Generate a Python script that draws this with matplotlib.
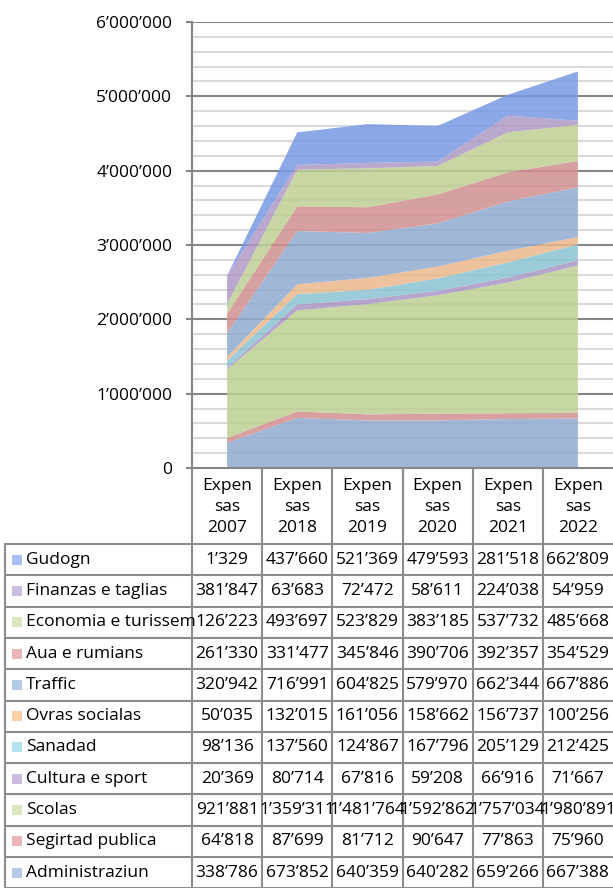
import matplotlib
matplotlib.use("Agg")
import matplotlib.pyplot as plt
from matplotlib.lines import Line2D
from matplotlib.patches import Rectangle
import numpy as np

# ---------------- data ----------------
years = ["2007", "2018", "2019", "2020", "2021", "2022"]
header_labels = ["Expen\nsas\n" + y for y in years]

# bottom-to-top stacking order
administraziun = [338786, 673852, 640359, 640282, 659266, 667388]
segirtad_publica = [64818, 87699, 81712, 90647, 77863, 75960]
scolas = [921881, 1359311, 1481764, 1592862, 1757034, 1980891]
cultura_e_sport = [20369, 80714, 67816, 59208, 66916, 71667]
sanadad = [98136, 137560, 124867, 167796, 205129, 212425]
ovras_socialas = [50035, 132015, 161056, 158662, 156737, 100256]
traffic = [320942, 716991, 604825, 579970, 662344, 667886]
aua_e_rumians = [261330, 331477, 345846, 390706, 392357, 354529]
economia_e_turissem = [126223, 493697, 523829, 383185, 537732, 485668]
finanzas_e_taglias = [381847, 63683, 72472, 58611, 224038, 54959]
gudogn = [1329, 437660, 521369, 479593, 281518, 662809]

series_names = ["Administraziun", "Segirtad publica", "Scolas", "Cultura e sport",
                "Sanadad", "Ovras socialas", "Traffic", "Aua e rumians",
                "Economia e turissem", "Finanzas e taglias", "Gudogn"]
series_values = [administraziun, segirtad_publica, scolas, cultura_e_sport,
                 sanadad, ovras_socialas, traffic, aua_e_rumians,
                 economia_e_turissem, finanzas_e_taglias, gudogn]

y_ticks = [0, 1000000, 2000000, 3000000, 4000000, 5000000, 6000000]

# ---------------- style ----------------
area_colors = ["#A1B8D8", "#D9A1A1", "#C7D7A4", "#B6A6CE", "#9CCDDA", "#EDC39C",
               "#A1B8D8", "#D8A0A0", "#C7D6A3", "#BBA8CE", "#8DA8E6"]
legend_colors = ["#B4CBE8", "#EBB5B5", "#D9E7BF", "#C9BCDF", "#B3E3EE", "#FCCFA6",
                 "#B4CBE8", "#EBB5B5", "#D9E7BF", "#C9BCDF", "#A6BFF7"]
ALPHA = 0.85


def base_color(hexc, a=ALPHA):
    r, g, b = [int(hexc[i:i + 2], 16) for i in (1, 3, 5)]
    out = []
    for c in (r, g, b):
        v = (c - (1 - a) * 255) / a
        out.append(min(max(v, 0), 255) / 255)
    return tuple(out)


def fmt(v):
    return f"{v:,}".replace(",", "\u2019")


FONT = "Open Sans"
FS = 12.5
W, H = 613, 888
DPI = 100
GRID_DARK = "#868686"
GRID_LIGHT = "#D9D9D9"
TABLE_LINE = "#8C8C8C"

fig = plt.figure(figsize=(W / DPI, H / DPI), dpi=DPI)
fig.patch.set_facecolor("white")

# plot area in pixels
x0, x1 = 192, 613
y_top, y_zero = 22, 468
ax = fig.add_axes([x0 / W, (H - y_zero) / H, (x1 - x0) / W, (y_zero - y_top) / H])
ax.set_xlim(-0.5, len(years) - 0.5)
ax.set_ylim(0, 6000000)
for s in ax.spines.values():
    s.set_visible(False)

# gridlines
for v in np.arange(200000, 6000001, 200000):
    if v % 1000000 == 0:
        ax.axhline(v, color=GRID_DARK, lw=1.5, zorder=1)
    else:
        ax.axhline(v, color=GRID_LIGHT, lw=1.5, zorder=1)

xs = np.arange(len(years))
ax.stackplot(xs, *series_values, colors=[base_color(c) for c in area_colors],
             alpha=ALPHA, zorder=2, linewidth=0)

ax.set_xticks([])
ax.set_yticks(y_ticks)
ax.set_yticklabels([fmt(v) for v in y_ticks], fontfamily=FONT, fontsize=FS)
ax.tick_params(axis="y", length=4.3, width=1.5, color=GRID_DARK, pad=10)
ax.plot([0, 0], [0, 1], transform=ax.transAxes, color=GRID_DARK, lw=1.5,
        clip_on=False, zorder=3)
ax.plot([0, 1], [0, 0], transform=ax.transAxes, color=GRID_DARK, lw=1.5,
        clip_on=False, zorder=3)

# ---------------- table (drawn in pixel coords) ----------------
def px(x, y):
    return x / W, (H - y) / H


def hline(xa, xb, y):
    fig.add_artist(Line2D([xa / W, xb / W], [(H - y) / H, (H - y) / H],
                          color=TABLE_LINE, lw=1.5))


def vline(x, ya, yb):
    fig.add_artist(Line2D([x / W, x / W], [(H - ya) / H, (H - yb) / H],
                          color=TABLE_LINE, lw=1.5))


col_w = (x1 - x0) / len(years)
col_edges = [x0 + i * col_w for i in range(len(years) + 1)]
header_top, header_bot = 469, 544
row_h = 31.3
n_rows = len(series_names)
table_left = 5

# header
for i, lab in enumerate(header_labels):
    cx = (col_edges[i] + col_edges[i + 1]) / 2
    fig.text(*px(cx, (header_top + header_bot) / 2 + 0.5), lab, ha="center", va="center",
             fontfamily=FONT, fontsize=FS, linespacing=1.38)
for e in col_edges[:-1]:
    vline(e, header_top, H)

# rows: displayed top-to-bottom in reverse stacking order
row_names = series_names[::-1]
row_vals = series_values[::-1]
row_cols = legend_colors[::-1]
for r in range(n_rows + 1):
    hline(table_left, W, header_bot + r * row_h)
vline(table_left, header_bot, H)

for r, (name, vals, col) in enumerate(zip(row_names, row_vals, row_cols)):
    yc = header_bot + (r + 0.5) * row_h
    sq = 10
    fig.add_artist(Rectangle(px(12, yc + sq / 2), sq / W, sq / H,
                             facecolor=col, edgecolor="none"))
    fig.text(*px(26, yc), name, ha="left", va="center", fontfamily=FONT, fontsize=FS)
    for i, v in enumerate(vals):
        cx = (col_edges[i] + col_edges[i + 1]) / 2
        fig.text(*px(cx, yc), fmt(v), ha="center", va="center",
                 fontfamily=FONT, fontsize=FS)

fig.savefig("out.png", dpi=DPI, facecolor="white")
